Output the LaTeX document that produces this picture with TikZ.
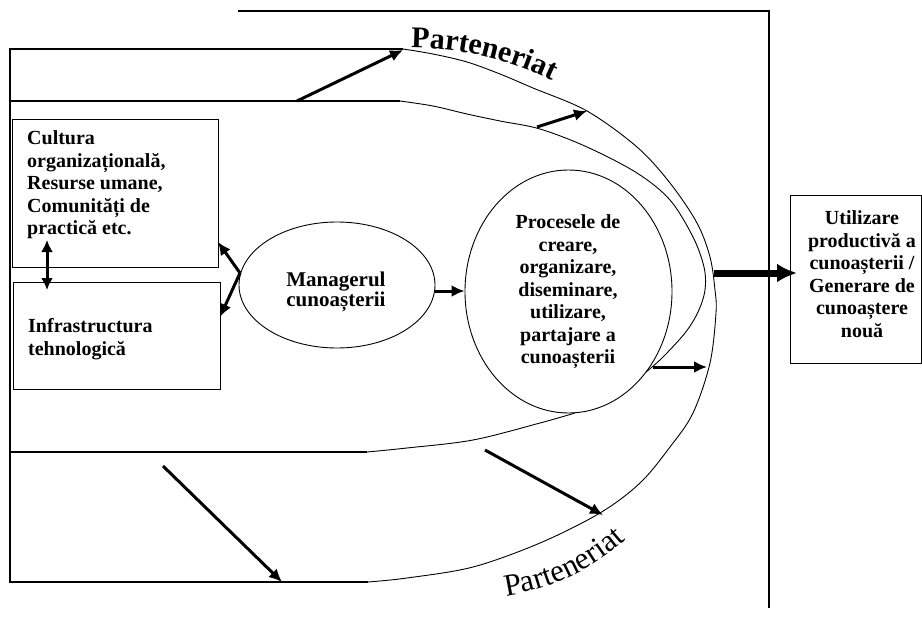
\documentclass[tikz,border=0pt]{standalone}
\usepackage{fontspec}
\setmainfont{Liberation Serif}
\usetikzlibrary{arrows.meta,decorations.text,shapes.geometric,calc}
\newcommand\plbtop{\fontsize{30}{30}\selectfont\bfseries}
\newcommand\plbbot{\fontsize{31}{31}\selectfont}
\begin{document}
\begin{tikzpicture}[x=1pt,y=-1pt,
  frame/.style={line width=1.3pt},
  curv/.style={line width=0.9pt},
  boxst/.style={draw,line width=1.3pt,rectangle,inner sep=0pt,anchor=north west},
  ellst/.style={draw,line width=0.9pt,ellipse,inner sep=0pt},
  txt/.style={font=\fontsize{20}{22.5}\selectfont\bfseries,inner sep=0pt},
  arr/.style={line width=3pt,-{Latex[length=13pt,width=12pt]}},
  dblarr/.style={line width=3pt,{Latex[length=12pt,width=12pt]}-{Latex[length=12pt,width=12pt]}},
  bigarr/.style={line width=7pt,-{Latex[length=20pt,width=19pt]}}
]
\fill[white] (0,0) rectangle (922,618);
\useasboundingbox (0,0) rectangle (922,618);

% outer frame lines
\draw[frame] (238,11) -- (769,11) -- (769,608);
\draw[frame] (403,49) -- (10,49) -- (10,582) -- (368,582);
\draw[frame] (400,101) -- (10,101);
\draw[frame] (10,452) -- (367,452);

% outer "Parteneriat" curve
\draw[curv] plot[smooth,tension=0.55] coordinates {(403,49) (433,54) (467,62) (500,74) (533,88) (587,111) (637,147) (670,183) (697,223) (710,257) (715,290) (716,313) (710,363) (693,413) (670,447) (640,483) (600,513) (540,543) (473,567) (407,578) (368,582)};

% inner curve
\draw[curv] plot[smooth,tension=0.55] coordinates {(400,101) (433,106) (467,114) (500,121) (540,129) (587,147) (637,173) (670,200) (693,237) (704,267) (705,290) (698,312) (685,333) (662,358) (646,372)};
\draw[curv] plot[smooth,tension=0.55] coordinates {(367,452) (407,448) (473,440) (540,423) (575,413)};

% boxes
\node[boxst,minimum width=206pt,minimum height=148pt] (b1) at (12,119) {};
\node[boxst,minimum width=207pt,minimum height=107pt] (b2) at (13,282) {};
\node[boxst,minimum width=131pt,minimum height=168pt] (b3) at (790,195) {};

\node[txt,align=left,anchor=west] (t1) at (27,185) {Cultura\\organizațională,\\Resurse umane,\\Comunități de\\practică etc.};
\node[txt,align=left,anchor=west] (t2) at (28,339) {Infrastructura\\tehnologică};
\node[txt,align=center] (t3) at (862,274) {Utilizare\\productivă a\\cunoașterii /\\Generare de\\cunoaștere\\nouă};

% ellipses
\node[ellst,minimum width=196pt,minimum height=126pt] (mgr) at (337,285) {};
\node[txt,align=center,font=\fontsize{21}{20.5}\selectfont\bfseries] (mgrt) at (336,292) {Managerul\\cunoașterii};
\node[ellst,minimum width=207pt,minimum height=243pt] (proc) at (568.5,291.5) {};
\node[txt,align=center] (proct) at (568,292) {Procesele de\\creare,\\organizare,\\diseminare,\\utilizare,\\partajare a\\cunoașterii};

% named points on curves
\coordinate (mL) at (240,273);
\coordinate (b1R) at (218,242);
\coordinate (b2R) at (220,317);
\coordinate (b1B) at (47,240);
\coordinate (b2T) at (47,290);
\coordinate (topA) at (297,101);
\coordinate (topB) at (403,50);
\coordinate (midA) at (537,127);
\coordinate (midB) at (587,111);
\coordinate (outR) at (714,273);
\coordinate (b3L) at (797,273);
\coordinate (prB) at (653,367);
\coordinate (outB) at (707,367);
\coordinate (botA) at (163,466);
\coordinate (botB) at (282,582);
\coordinate (brA) at (485,450);
\coordinate (brB) at (603,515);

% arrows
\draw[dblarr] (b1B) -- (b2T);
\draw[arr] (mL) -- (b1R);
\draw[arr] (mL) -- (b2R);
\draw[arr] (mgr.east |- 0,291) -- (proc.west |- 0,291);
\draw[bigarr] (outR) -- (b3L);
\draw[arr] (prB) -- (outB);
\draw[arr] (topA) -- (topB);
\draw[arr] (midA) -- (midB);
\draw[arr] (botA) -- (botB);
\draw[arr] (brA) -- (brB);

% curved labels
\path[decorate,decoration={text along path,text align=left,text={|\plbtop|Parteneriat}}] (411,48) .. controls (460,48) and (515,58) .. (578,94);
\path[decorate,decoration={text along path,text align=left,text={|\plbbot|Parteneriat}}] (506,596) .. controls (552,589) and (600,569) .. (644,522);
\end{tikzpicture}
\end{document}
